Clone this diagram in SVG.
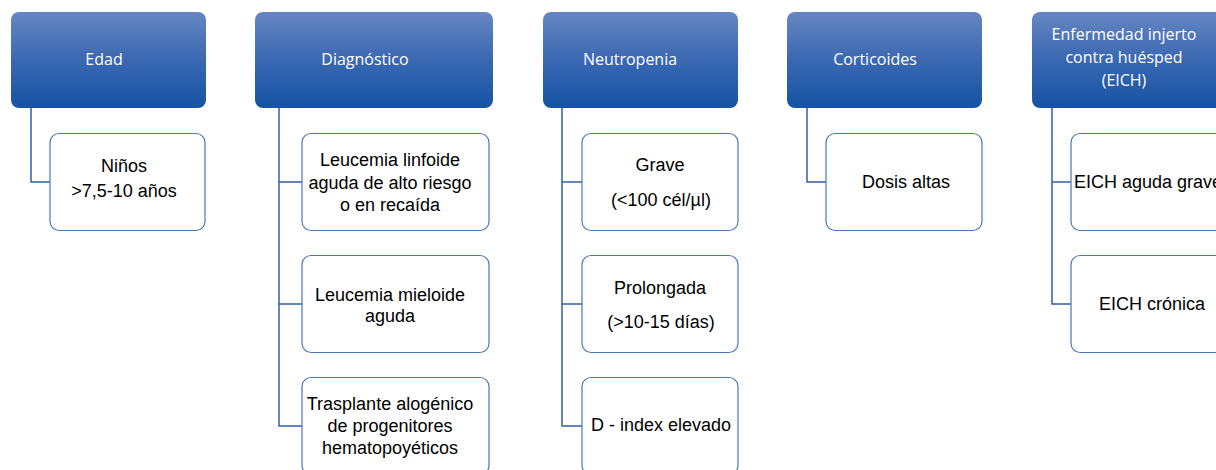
<svg xmlns="http://www.w3.org/2000/svg" width="1216" height="470" viewBox="0 0 1216 470">
<defs>
<linearGradient id="hg" x1="0" y1="0" x2="0" y2="1">
<stop offset="0" stop-color="#6686c1"/>
<stop offset="0.5" stop-color="#3a68b2"/>
<stop offset="1" stop-color="#1553a3"/>
</linearGradient>
</defs>
<style>
.h{fill:url(#hg);}
.ht{font-family:"Open Sans",sans-serif;font-size:16px;fill:#ffffff;text-anchor:middle;}
.c{fill:#ffffff;stroke:#4a77b9;stroke-width:1.2;}
.ct{font-family:"Liberation Sans",Arial,sans-serif;font-size:18px;fill:#000000;text-anchor:middle;}
.l{fill:none;stroke:#2f60a8;stroke-width:1.5;}
</style>
<rect width="1216" height="470" fill="#ffffff"/>
<g id="connectors">
<path class="l" d="M31 107V182H50"/>
<path class="l" d="M279 107V426H302M279 182H302M279 304H302"/>
<path class="l" d="M562 107V426H582M562 182H582M562 304H582"/>
<path class="l" d="M807 107V182H826"/>
<path class="l" d="M1052 107V304H1071M1052 182H1071"/>
</g>
<g id="edad">
<rect class="h" x="11" y="12" width="195" height="96" rx="8"/>
<text class="ht" x="104" y="65">Edad</text>
</g>
<g id="ninos">
<rect class="c" x="50" y="133.5" width="155" height="97" rx="9"/>
<text class="ct" x="124" y="172">Niños</text>
<text class="ct" x="124" y="197">&gt;7,5-10 años</text>
</g>
<g id="diagnostico">
<rect class="h" x="255" y="12" width="238" height="96" rx="8"/>
<text class="ht" x="365" y="65">Diagnóstico</text>
</g>
<g id="lla">
<rect class="c" x="302" y="133.5" width="187" height="97" rx="9"/>
<text class="ct" x="390" y="166">Leucemia linfoide</text>
<text class="ct" x="390" y="189">aguda de alto riesgo</text>
<text class="ct" x="390" y="211">o en recaída</text>
</g>
<g id="lma">
<rect class="c" x="302" y="255.5" width="187" height="97" rx="9"/>
<text class="ct" x="390" y="301">Leucemia mieloide</text>
<text class="ct" x="390" y="322">aguda</text>
</g>
<g id="trasplante">
<rect class="c" x="302" y="377.5" width="187" height="97" rx="9"/>
<text class="ct" x="390" y="410">Trasplante alogénico</text>
<text class="ct" x="390" y="432">de progenitores</text>
<text class="ct" x="390" y="454">hematopoyéticos</text>
</g>
<g id="neutropenia">
<rect class="h" x="543" y="12" width="195" height="96" rx="8"/>
<text class="ht" x="630" y="65">Neutropenia</text>
</g>
<g id="grave">
<rect class="c" x="582" y="133.5" width="156" height="97" rx="9"/>
<text class="ct" x="660" y="171">Grave</text>
<text class="ct" x="661" y="206">(&lt;100 cél/µl)</text>
</g>
<g id="prolongada">
<rect class="c" x="582" y="255.5" width="156" height="97" rx="9"/>
<text class="ct" x="660" y="294">Prolongada</text>
<text class="ct" x="661" y="328">(&gt;10-15 días)</text>
</g>
<g id="dindex">
<rect class="c" x="582" y="377.5" width="156" height="97" rx="9"/>
<text class="ct" x="661" y="431">D - index elevado</text>
</g>
<g id="corticoides">
<rect class="h" x="787" y="12" width="195" height="96" rx="8"/>
<text class="ht" x="875" y="65">Corticoides</text>
</g>
<g id="dosis">
<rect class="c" x="826" y="133.5" width="156" height="97" rx="9"/>
<text class="ct" x="906" y="188">Dosis altas</text>
</g>
<g id="eich">
<rect class="h" x="1032" y="12" width="200" height="96" rx="8"/>
<text class="ht" x="1124" y="40">Enfermedad injerto</text>
<text class="ht" x="1124" y="63">contra huésped</text>
<text class="ht" x="1124" y="86">(EICH)</text>
</g>
<g id="eich-aguda">
<rect class="c" x="1071" y="133.5" width="160" height="97" rx="9"/>
<text class="ct" x="1074" y="188" style="text-anchor:start">EICH aguda grave</text>
</g>
<g id="eich-cronica">
<rect class="c" x="1071" y="255.5" width="160" height="97" rx="9"/>
<text class="ct" x="1152" y="310">EICH crónica</text>
</g>
</svg>
